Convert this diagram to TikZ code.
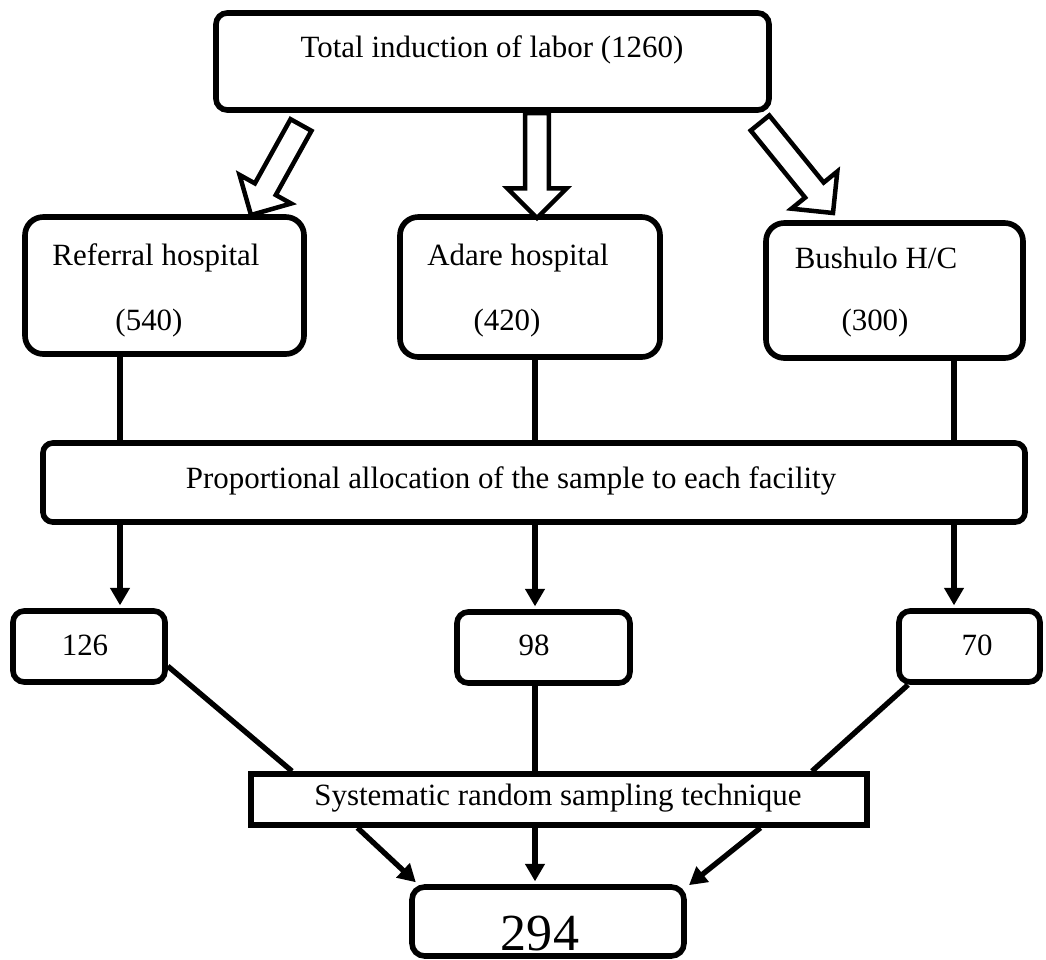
\documentclass[tikz,border=0pt]{standalone}
\usepackage{fontspec}
\setmainfont{Liberation Serif}
\usetikzlibrary{arrows.meta,calc,fit}

% hollow block arrow from #1 to #2
\newcommand{\hollowarrow}[2]{%
  \coordinate (hb) at ($(#2)!21pt!(#1)$);
  \draw[hollow] ($(#1)!8.5pt!90:(#2)$) -- ($(hb)!8.5pt!90:(#2)$) -- ($(hb)!21pt!90:(#2)$) -- (#2)
    -- ($(hb)!21pt!-90:(#2)$) -- ($(hb)!8.5pt!-90:(#2)$) -- ($(#1)!8.5pt!-90:(#2)$) -- cycle;}

\begin{document}
\begin{tikzpicture}[x=0.025cm,y=-0.025cm,font=\fontsize{22}{26}\selectfont,
  box/.style={draw,line width=4pt,rounded corners=#1,inner sep=0pt},
  box/.default=8pt,
  sqbox/.style={draw,line width=4pt,inner sep=0pt},
  txt/.style={anchor=base,inner sep=0pt},
  link/.style={line width=3.8pt},
  arr/.style={link,-{Triangle[length=12.5pt,width=13.5pt]},shorten >=2pt},
  hollow/.style={draw,fill=white,line width=3.2pt,line join=miter}]
\useasboundingbox (0,0) rectangle (1046,960);
% top
\node[box=8pt,fit={(216,13) (769,110)}] (total) {};
\node[txt] (totaltxt) at (492,57) {Total induction of labor (1260)};
% facilities
\node[box=13pt,fit={(25,217) (304,354)}] (ref) {};
\node[txt] (reftxt) at (156,265) {Referral hospital};
\node[txt] (refnum) at (149,330) {(540)};
\node[box=13pt,fit={(400,217) (660,357)}] (adare) {};
\node[txt] (adaretxt) at (518,265) {Adare hospital};
\node[txt] (adarenum) at (507,330) {(420)};
\node[box=13pt,fit={(766,223) (1023,358)}] (bush) {};
\node[txt] (bushtxt) at (876,268) {Bushulo H/C};
\node[txt] (bushnum) at (875,330) {(300)};
% allocation
\node[box=7pt,fit={(43,443) (1025,522)}] (prop) {};
\node[txt] (proptxt) at (511,488) {Proportional allocation of the sample to each facility};
% samples
\node[box,fit={(13,611) (165,682)}] (s126) {};
\node[txt] (s126txt) at (85,655) {126};
\node[box,fit={(457,612) (630,683)}] (s98) {};
\node[txt] (s98txt) at (534,655) {98};
\node[box,fit={(899,611) (1040,682)}] (s70) {};
\node[txt] (s70txt) at (977,655) {70};
% sampling
\node[sqbox,fit={(251,774) (867,825)}] (sys) {};
\node[txt] (systxt) at (558,805) {Systematic random sampling technique};
\node[box=9pt,fit={(412,887) (684,956)}] (n294) {};
\node[txt,font=\fontsize{37}{40}\selectfont] (n294txt) at (540,950) {294};

\coordinate (colA) at (120,0);
\coordinate (colB) at (535,0);
\coordinate (colC) at (954,0);
\coordinate (colL) at (292,0);
\coordinate (colR) at (812,0);
\coordinate (colD) at (908,0);
\coordinate (la) at (301,125);
\coordinate (lb) at (251,215);
\coordinate (ca) at (537,113);
\coordinate (cb) at (537,218);
\coordinate (ra) at (760,123);
\coordinate (rb) at (833,213);

\hollowarrow{la}{lb}
\hollowarrow{ca}{cb}
\hollowarrow{ra}{rb}

\draw[link] (ref.south -| colA) -- (prop.north -| colA);
\draw[link] (adare.south -| colB) -- (prop.north -| colB);
\draw[link] (bush.south -| colC) -- (prop.north -| colC);
\draw[arr] (prop.south -| colA) -- (s126.north -| colA);
\draw[arr] (prop.south -| colB) -- (s98.north -| colB);
\draw[arr] (prop.south -| colC) -- (s70.north -| colC);
\draw[link] (s126.-14) -- (sys.north -| colL);
\draw[link] (s98.south -| colB) -- (sys.north -| colB);
\draw[link] (s70.south -| colD) -- (sys.north -| colR);
\draw[arr] (sys.188) -- (n294.164);
\draw[arr] (sys.south -| colB) -- (n294.north -| colB);
\draw[arr] (sys.-8) -- (n294.14);
\end{tikzpicture}
\end{document}
